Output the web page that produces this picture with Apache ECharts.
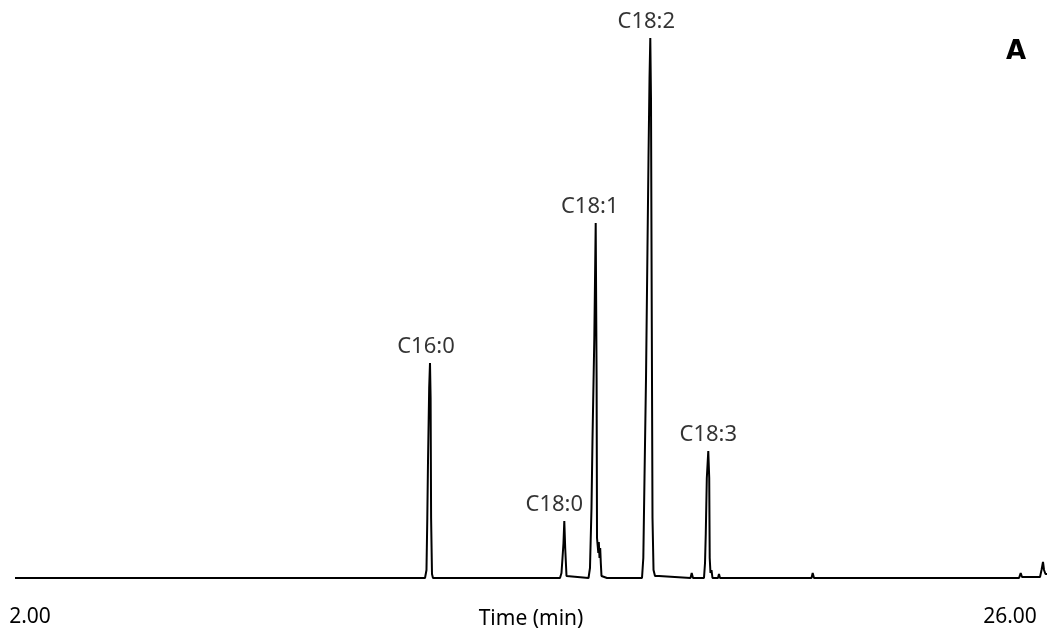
<!DOCTYPE html>
<html>
<head>
<meta charset="utf-8">
<script src="https://cdn.jsdelivr.net/npm/echarts@6/dist/echarts.min.js"></script>
<style>
html,body{margin:0;padding:0;background:#fff;}
#chart{width:1047px;height:633px;}
</style>
</head>
<body>
<div id="chart"></div>
<script>
// Retention time (min) of each trace point
const traceTime = [
  1.633, 8.465, 8.490, 8.514, 11.674, 11.710, 11.730, 11.747, 11.776, 11.796, 11.811, 11.823, 11.845, 11.869,
  12.629, 12.653, 12.678, 13.388, 13.412, 13.437,
  14.980, 15.016, 15.041, 15.065, 15.085, 15.107, 15.139, 15.163,
  15.678, 15.714, 15.751, 15.776, 15.820, 15.854, 15.876, 15.886, 15.905, 15.918, 15.930, 15.947, 15.964, 15.979, 15.996, 16.020,
  16.131, 16.148, 16.165,
  16.988, 17.020, 17.049, 17.086, 17.122, 17.147, 17.172, 17.191, 17.208, 17.228, 17.245, 17.270, 17.306, 17.331, 17.404, 17.429,
  18.176, 18.205, 18.237, 18.506, 18.531, 18.550, 18.575, 18.611, 18.634, 18.646, 18.665, 18.690, 18.714,
  18.849, 18.873, 18.898, 21.139, 21.168, 21.200,
  23.931, 23.955, 23.980, 24.090, 24.114, 24.139, 25.804, 25.829, 25.853,
  26.049, 26.073, 26.098, 26.221, 26.262, 26.294, 26.466, 26.490, 26.514,
  26.735, 26.772, 26.808, 26.833, 26.869, 26.906
];
// Detector response (relative abundance) of each trace point
const traceSignal = [
  0, 0, 1.5, 0, 0, 8, 60, 116, 190, 215, 180, 60, 4, 0,
  0, 1.5, 0, 0, 1.5, 0,
  0, 5, 20, 35, 57, 30, 2, 0,
  0, 10, 70, 140, 240, 355, 200, 40, 38, 25, 36, 20, 30, 15, 2, 0,
  0, 2, 0,
  0, 20, 100, 200, 330, 420, 500, 540, 480, 250, 60, 8, 2, 0, 2, 0,
  0, 5, 0, 0, 15, 45, 100, 127, 100, 20, 5, 8, 0,
  0, 4, 0, 0, 5, 0,
  0, 1.5, 0, 0, 1.5, 0, 0, 1.5, 0,
  0, 1.5, 0, 0, 5, 1, 1, 2, 1,
  1, 8, 16, 8, 4, 4
];
// Labelled peaks
const peakNames = ["C16:0", "C18:0", "C18:1", "C18:2", "C18:3"];
const peakTimes = [11.796, 15.085, 15.854, 17.191, 18.611];
const peakHeights = [215, 57, 355, 540, 127];
// Axis tick labels
const xTickValues = [2, 26];
const xAxisTitle = "Time (min)";
const panelLetter = "A";

const labelDx = {"C16:0": -4, "C18:0": -10, "C18:1": -6, "C18:2": -4, "C18:3": 0};

const chart = echarts.init(document.getElementById('chart'));
const FONT = '"Noto Sans", sans-serif';
const option = {
  animation: false,
  backgroundColor: '#ffffff',
  grid: {left: 15, right: 0, top: 0, bottom: 55, containLabel: false, outerBoundsMode: 'none'},
  xAxis: {
    type: 'value', min: 1.633, max: 26.906,
    axisLine: {show: false}, axisTick: {show: false}, splitLine: {show: false},
    axisLabel: {
      customValues: xTickValues, margin: 29,
      formatter: v => v.toFixed(2),
      fontFamily: FONT, fontSize: 21, color: '#000'
    },
    name: xAxisTitle, nameLocation: 'middle', nameGap: 31, nameMoveOverlap: false,
    nameTextStyle: {fontFamily: FONT, fontSize: 21, color: '#000'}
  },
  yAxis: {
    type: 'value', min: 0, max: 578, show: false
  },
  series: [
    {
      type: 'line',
      data: traceTime.map((t, i) => [t, traceSignal[i]]),
      showSymbol: false, symbol: 'none',
      lineStyle: {color: '#000', width: 2},
      silent: true, z: 2
    },
    {
      type: 'scatter',
      symbolSize: 0,
      data: peakNames.map((n, i) => ({
        name: n, value: [peakTimes[i], peakHeights[i]],
        label: {offset: [labelDx[n], 0]}
      })),
      label: {
        show: true, position: 'top', distance: 5,
        formatter: p => p.name,
        fontFamily: FONT, fontSize: 22, color: '#000'
      },
      silent: true, z: 3
    }
  ],
  graphic: [{
    type: 'text', x: 1016, y: 52,
    style: {
      text: panelLetter, fontFamily: '"DejaVu Sans", sans-serif', fontWeight: 'bold',
      fontSize: 26, fill: '#000', align: 'center', verticalAlign: 'middle'
    }
  }]
};
chart.setOption(option);
</script>
</body>
</html>
